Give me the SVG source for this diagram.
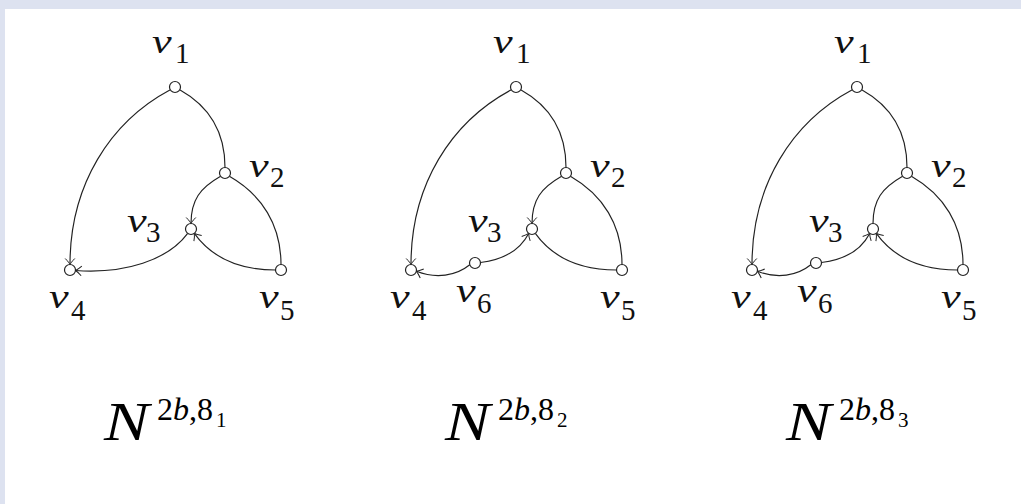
<svg xmlns="http://www.w3.org/2000/svg" width="1021" height="504" viewBox="0 0 1021 504">
<style>
.e{fill:none;stroke:#222;stroke-width:1.15}
.a{marker-end:url(#arr)}
.n{fill:#fff;stroke:#222;stroke-width:1.2}
.v{font-family:"Liberation Serif","DejaVu Serif",serif;font-style:italic;font-size:34px;fill:#111}
.s{font-family:"Liberation Serif","DejaVu Serif",serif;font-size:29px;fill:#111}
.N{font-family:"Liberation Serif","DejaVu Serif",serif;font-style:italic;font-size:54px;fill:#000}
.sup{font-family:"Liberation Serif","DejaVu Serif",serif;font-size:32px;fill:#000}
.ss{font-family:"Liberation Serif","DejaVu Serif",serif;font-size:21px;fill:#000}
.it{font-style:italic}
</style>
<defs>
<marker id="arr" markerUnits="userSpaceOnUse" markerWidth="12" markerHeight="12" viewBox="-8 -6 10 12" refX="0" refY="0" orient="auto">
<path d="M -6,-4.8 C -3.2,-2 -1,-0.5 0,0 C -1,0.5 -3.2,2 -6,4.8" fill="none" stroke="#222" stroke-width="1"/>
</marker>
</defs>
<rect x="0" y="0" width="1021" height="504" fill="#fff"/>
<rect x="0" y="0" width="1021" height="9" fill="#dde2f0"/>
<rect x="0" y="0" width="5" height="504" fill="#dde2f0"/>

<!-- Diagram 1 -->
<g id="diagram1">
<g id="d1-edges">
<path class="e a" d="M 170.3,89.8 C 110,122 70,185 70,264.5"/>
<path class="e" d="M 179.7,89.8 C 207,105 225,130 225,167.5"/>
<path class="e a" d="M 220.6,176.3 C 200,188 191,200 191,223.5"/>
<path class="e" d="M 229.4,176.3 C 262,195 281,225 281,264.5"/>
<path class="e a" d="M 275.5,270 C 240,270 212,258 194.3,233.4"/>
<path class="e a" d="M 187.7,233.4 C 168,260 125,274 75.5,270.5"/>
</g>
<g id="d1-v1"><circle class="n" cx="175" cy="87" r="5.5"/><text class="v" transform="translate(152,53) scale(1.3,1)">v</text><text class="s" x="175" y="63">1</text></g>
<g id="d1-v2"><circle class="n" cx="225" cy="173" r="5.5"/><text class="v" transform="translate(249,177) scale(1.3,1)">v</text><text class="s" x="270" y="187">2</text></g>
<g id="d1-v3"><circle class="n" cx="191" cy="229" r="5.5"/><text class="v" transform="translate(127,232) scale(1.3,1)">v</text><text class="s" x="146" y="242">3</text></g>
<g id="d1-v4"><circle class="n" cx="70" cy="270" r="5.5"/><text class="v" transform="translate(49,308) scale(1.3,1)">v</text><text class="s" x="71" y="320">4</text></g>
<g id="d1-v5"><circle class="n" cx="281" cy="270" r="5.5"/><text class="v" transform="translate(259,308) scale(1.3,1)">v</text><text class="s" x="280" y="320">5</text></g>
</g>

<!-- Diagram 2 -->
<g id="diagram2" transform="translate(341,0)">
<g id="d2-edges">
<path class="e a" d="M 170.3,89.8 C 110,122 70,185 70,264.5"/>
<path class="e" d="M 179.7,89.8 C 207,105 225,130 225,167.5"/>
<path class="e a" d="M 220.6,176.3 C 200,188 191,200 191,223.5"/>
<path class="e" d="M 229.4,176.3 C 262,195 281,225 281,264.5"/>
<path class="e" d="M 275.5,270 C 240,270 212,258 194.3,233.4"/>
<path class="e a" d="M 139.5,262.5 C 160,260 178,252 187.7,233.4"/>
<path class="e a" d="M 128.8,264.8 C 115,276 95,279 75.4,271.3"/>
</g>
<g id="d2-v1"><circle class="n" cx="175" cy="87" r="5.5"/><text class="v" transform="translate(152,53) scale(1.3,1)">v</text><text class="s" x="175" y="63">1</text></g>
<g id="d2-v2"><circle class="n" cx="225" cy="173" r="5.5"/><text class="v" transform="translate(249,177) scale(1.3,1)">v</text><text class="s" x="270" y="187">2</text></g>
<g id="d2-v3"><circle class="n" cx="191" cy="229" r="5.5"/><text class="v" transform="translate(127,232) scale(1.3,1)">v</text><text class="s" x="146" y="242">3</text></g>
<g id="d2-v4"><circle class="n" cx="70" cy="270" r="5.5"/><text class="v" transform="translate(49,308) scale(1.3,1)">v</text><text class="s" x="71" y="320">4</text></g>
<g id="d2-v5"><circle class="n" cx="281" cy="270" r="5.5"/><text class="v" transform="translate(259,308) scale(1.3,1)">v</text><text class="s" x="280" y="320">5</text></g>
<g id="d2-v6"><circle class="n" cx="134" cy="263" r="5.5"/><text class="v" transform="translate(115,302) scale(1.3,1)">v</text><text class="s" x="136" y="313">6</text></g>
</g>

<!-- Diagram 3 -->
<g id="diagram3" transform="translate(682,0)">
<g id="d3-edges">
<path class="e a" d="M 170.3,89.8 C 110,122 70,185 70,264.5"/>
<path class="e" d="M 179.7,89.8 C 207,105 225,130 225,167.5"/>
<path class="e" d="M 220.6,176.3 C 200,188 191,200 191,223.5"/>
<path class="e" d="M 229.4,176.3 C 262,195 281,225 281,264.5"/>
<path class="e a" d="M 275.5,270 C 240,270 212,258 194.3,233.4"/>
<path class="e a" d="M 139.5,262.5 C 160,260 178,252 187.7,233.4"/>
<path class="e a" d="M 128.8,264.8 C 115,276 95,279 75.4,271.3"/>
</g>
<g id="d3-v1"><circle class="n" cx="175" cy="87" r="5.5"/><text class="v" transform="translate(152,53) scale(1.3,1)">v</text><text class="s" x="175" y="63">1</text></g>
<g id="d3-v2"><circle class="n" cx="225" cy="173" r="5.5"/><text class="v" transform="translate(249,177) scale(1.3,1)">v</text><text class="s" x="270" y="187">2</text></g>
<g id="d3-v3"><circle class="n" cx="191" cy="229" r="5.5"/><text class="v" transform="translate(127,232) scale(1.3,1)">v</text><text class="s" x="146" y="242">3</text></g>
<g id="d3-v4"><circle class="n" cx="70" cy="270" r="5.5"/><text class="v" transform="translate(49,308) scale(1.3,1)">v</text><text class="s" x="71" y="320">4</text></g>
<g id="d3-v5"><circle class="n" cx="281" cy="270" r="5.5"/><text class="v" transform="translate(259,308) scale(1.3,1)">v</text><text class="s" x="280" y="320">5</text></g>
<g id="d3-v6"><circle class="n" cx="134" cy="263" r="5.5"/><text class="v" transform="translate(115,302) scale(1.3,1)">v</text><text class="s" x="136" y="313">6</text></g>
</g>

<!-- Captions -->
<g id="cap1"><text class="N" transform="translate(104,440) scale(1.25,1)">N</text><text class="sup" x="157" y="420">2<tspan class="it">b</tspan>,8</text><text class="ss" x="216" y="427">1</text></g>
<g id="cap2"><text class="N" transform="translate(445,440) scale(1.25,1)">N</text><text class="sup" x="498" y="420">2<tspan class="it">b</tspan>,8</text><text class="ss" x="557" y="427">2</text></g>
<g id="cap3"><text class="N" transform="translate(786,440) scale(1.25,1)">N</text><text class="sup" x="839" y="420">2<tspan class="it">b</tspan>,8</text><text class="ss" x="898" y="427">3</text></g>
</svg>
